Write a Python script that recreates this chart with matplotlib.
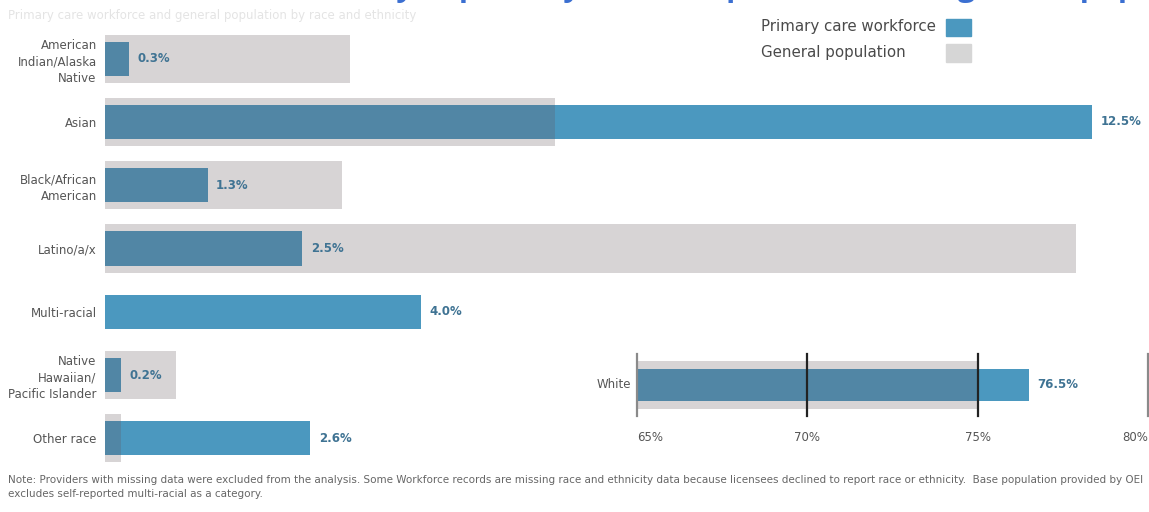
import matplotlib.pyplot as plt
from matplotlib.patches import Rectangle
from matplotlib.transforms import blended_transform_factory

# race / ethnicity groups shown in the main panel
groups = ["American\nIndian/Alaska\nNative", "Asian", "Black/African\nAmerican",
          "Latino/a/x", "Multi-racial", "Native\nHawaiian/\nPacific Islander", "Other race"]
workforce = [0.3, 12.5, 1.3, 2.5, 4.0, 0.2, 2.6]
# OEI base population does not report multi-racial
population = [3.1, 5.7, 3.0, 12.3, None, 0.9, 0.2]

white_workforce = 76.5
white_population = 75.0
white_ticks = [65, 70, 75, 80]

title = "Racial and ethnic diversity in primary care compared with the general population"
subtitle = "Primary care workforce and general population by race and ethnicity"
note = ("Note: Providers with missing data were excluded from the analysis. Some Workforce records are missing "
        "race and ethnicity data because licensees declined to report race or ethnicity.  Base population provided by OEI\n"
        "excludes self-reported multi-racial as a category.")

blue = "#4b98bf"
shade = (0.39, 0.33, 0.35, 0.25)
label_col = "#3f7393"
text_col = "#555555"

W, H = 1149, 512
fig = plt.figure(figsize=(W / 100, H / 100), dpi=100)

# main panel
ax = fig.add_axes([105 / W, 1 - 470 / H, (W - 105) / W, 443 / H])
y = list(range(len(groups)))
ax.barh(y, workforce, height=0.54, color=blue, zorder=2)
for yi, p in zip(y, population):
    if p is not None:
        ax.barh(yi, p, height=0.76, color=shade, zorder=3, linewidth=0)
for yi, v in zip(y, workforce):
    ax.annotate(f"{v:.1f}%", (v, yi), xytext=(6, 0), textcoords="offset points",
                va="center", ha="left", fontsize=8.5, fontweight="bold", color=label_col)
ax.set_xlim(0, (W - 105) / 78.96)
ax.set_ylim(len(groups) - 0.5, -0.5)
ax.set_yticks(y)
ax.set_yticklabels(groups, fontsize=8.5, color=text_col, linespacing=1.35)
ax.tick_params(axis="y", length=0, pad=6)
ax.set_xticks([])
for s in ax.spines.values():
    s.set_visible(False)

# White shown on its own zoomed scale
ax2 = fig.add_axes([637 / W, 1 - 416 / H, (1148 - 637) / W, 62 / H])
ax2.barh(0, white_workforce - 65, left=65, height=0.52, color=blue, zorder=2)
ax2.barh(0, white_population - 65, left=65, height=0.76, color=shade, zorder=3, linewidth=0)
ax2.annotate(f"{white_workforce:.1f}%", (white_workforce, 0), xytext=(6, 0),
             textcoords="offset points", va="center", ha="left",
             fontsize=8.5, fontweight="bold", color=label_col)
ax2.set_xlim(65, 80)
ax2.set_ylim(-0.5, 0.5)
for t in white_ticks:
    dark = t in (70, 75)
    ax2.axvline(t, color="#222222" if dark else "#8a8a8a", lw=1.6, zorder=4, clip_on=False)
trans = blended_transform_factory(ax2.transData, ax2.transAxes)
for t, ha in zip(white_ticks, ["left", "center", "center", "right"]):
    ax2.text(t, -0.35, f"{t}%", transform=trans, ha=ha, va="center",
             fontsize=8.5, color=text_col)
ax2.text(-0.012, 0.5, "White", transform=ax2.transAxes, ha="right", va="center",
         fontsize=8.5, color=text_col)
ax2.axis("off")

# legend
fig.text(761 / W, 1 - 27 / H, "Primary care workforce", ha="left", va="center",
         fontsize=10.8, color="#4a4a4a")
fig.text(761 / W, 1 - 53 / H, "General population", ha="left", va="center",
         fontsize=10.8, color="#4a4a4a")
fig.patches.append(Rectangle((946 / W, 1 - 36 / H), 25 / W, 17 / H,
                             transform=fig.transFigure, color=blue))
fig.patches.append(Rectangle((946 / W, 1 - 62 / H), 25 / W, 18 / H,
                             transform=fig.transFigure, color="#d6d6d6"))

# title runs off the top edge; line it up so "diversity" ends near x=403
title_kw = dict(fontsize=22, fontweight="bold", family=["Open Sans", "DejaVu Sans"])
renderer = fig.canvas.get_renderer()
probe = fig.text(0, 0, "Racial and ethnic diversit", **title_kw)
probe_w = probe.get_window_extent(renderer).width
probe.remove()
fig.text((403 - probe_w - 7) / W, 1 + 4 / H, title, ha="left", va="baseline",
         color="#3b6fd1", **title_kw)
fig.text(8 / W, 1 - 16 / H, subtitle, ha="left", va="center", fontsize=8.5,
         color="#e4e4e4")

fig.text(8 / W, 1 - 487 / H, note, ha="left", va="center", fontsize=7.45,
         color="#666666", linespacing=1.6)

fig.savefig("out.png", dpi=100)
